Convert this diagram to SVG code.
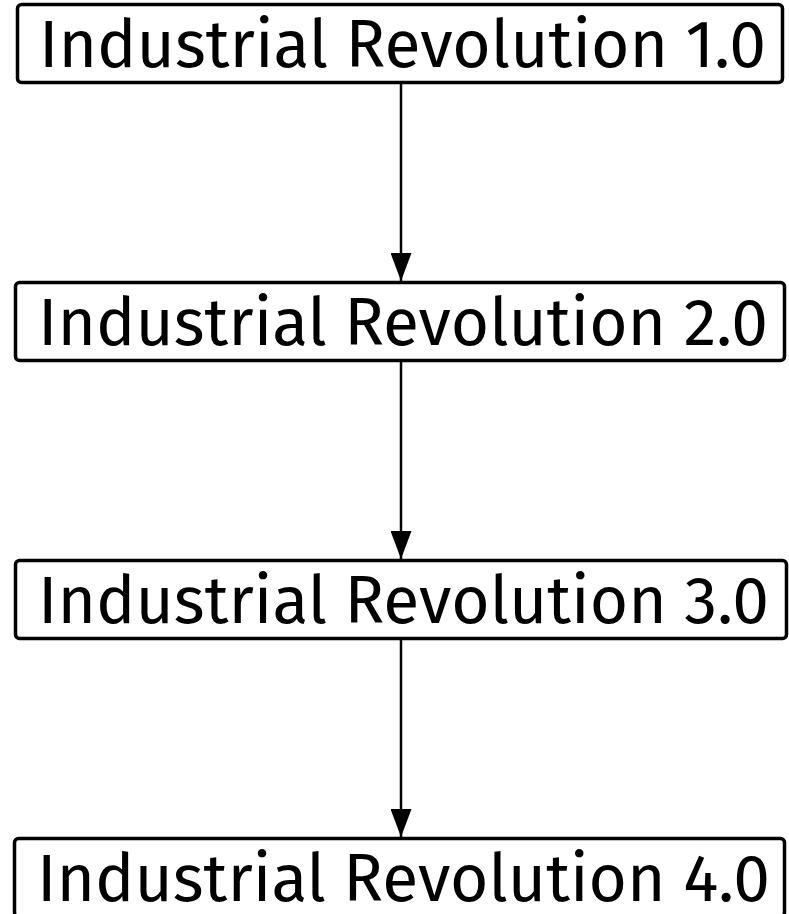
<svg xmlns="http://www.w3.org/2000/svg" width="789" height="914" viewBox="0 0 789 914">
<defs>
<style>
.box{fill:#fff;stroke:#000;stroke-width:3.5}
.lbl{font-family:"Fira Sans","Open Sans","Noto Sans",sans-serif;font-size:67px;font-weight:400;fill:#000;text-anchor:middle}
.edge{stroke:#000;stroke-width:2.5;fill:none}
</style>
<marker id="arr" markerWidth="28" markerHeight="21" refX="28" refY="10.5" orient="auto" markerUnits="userSpaceOnUse" viewBox="0 0 28 21">
<path d="M0,0 L28,10.5 L0,21 Z" fill="#000"/>
</marker>
</defs>
<rect width="789" height="914" fill="#fff"/>
<g id="connectors">
<line class="edge" x1="401" y1="83" x2="401" y2="281" marker-end="url(#arr)"/>
<line class="edge" x1="401" y1="361" x2="401" y2="559" marker-end="url(#arr)"/>
<line class="edge" x1="401" y1="639" x2="401" y2="837" marker-end="url(#arr)"/>
</g>
<g id="node1">
<rect class="box" x="17.5" y="4.5" width="765" height="78" rx="4"/>
<text class="lbl" x="402.5" y="67" textLength="727" lengthAdjust="spacingAndGlyphs">Industrial Revolution 1.0</text>
</g>
<g id="node2">
<rect class="box" x="15.5" y="282.5" width="769" height="78" rx="4"/>
<text class="lbl" x="403" y="345" textLength="730" lengthAdjust="spacingAndGlyphs">Industrial Revolution 2.0</text>
</g>
<g id="node3">
<rect class="box" x="15.5" y="560.5" width="771" height="78" rx="4"/>
<text class="lbl" x="403.5" y="623" textLength="731" lengthAdjust="spacingAndGlyphs">Industrial Revolution 3.0</text>
</g>
<g id="node4">
<rect class="box" x="14.5" y="838.5" width="770" height="78" rx="4"/>
<text class="lbl" x="403.5" y="901" textLength="733" lengthAdjust="spacingAndGlyphs">Industrial Revolution 4.0</text>
</g>
</svg>
